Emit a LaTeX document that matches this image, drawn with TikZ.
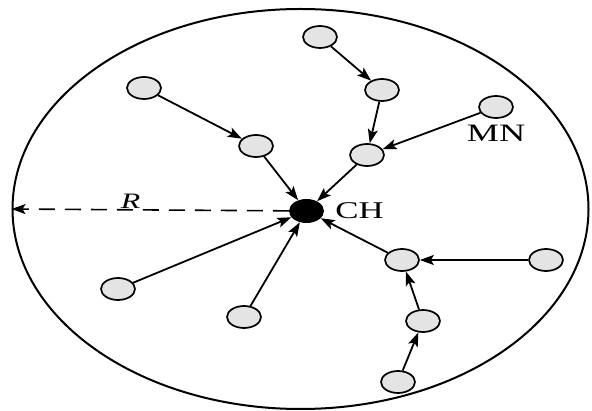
\documentclass[tikz,border=0pt]{standalone}
\usepackage{fontspec}
\usepackage{tikz}
\usetikzlibrary{arrows.meta, positioning, shapes.geometric}
\newfontfamily\lblfont[FakeStretch=1.45]{Liberation Serif}
\definecolor{mnfill}{HTML}{E4E4E4}

\begin{document}
\begin{tikzpicture}[
   x=1pt, y=-1pt, >={Stealth[length=14pt, width=10pt, inset=3pt]},
   font=\lblfont\fontsize{24}{24}\selectfont,
   member/.style = {ellipse, draw=black, line width=1.7pt, fill=mnfill,
                    minimum width=34pt, minimum height=22pt, inner sep=0pt},
   head/.style   = {ellipse, fill=black, minimum width=35pt, minimum height=24pt, inner sep=0pt},
   link/.style   = {->, line width=1.8pt}]
  \useasboundingbox (0,0) rectangle (592,411);
  \node[ellipse, draw, line width=2pt, minimum width=576pt, minimum height=400pt,
        inner sep=0pt] (field) at (300.5,209) {};

  \node[head] (ch) at (306.5,211) {};
  \node[right=9pt of ch, inner sep=2pt] (chlbl) {CH};

  \node[member] (nw1) at (144,88)  {};
  \node[member] (nw2) at (256,146) {};
  \node[member] (n1)  at (320,37)  {};
  \node[member] (n2)  at (382,90)  {};
  \node[member] (n3)  at (367,155) {};
  \node[member] (mn)  at (496,107) {};
  \node[below=4pt of mn, inner sep=2pt, font=\lblfont\fontsize{25}{25}\selectfont] (mnlbl) {MN};
  \node[member] (sw1) at (118,289) {};
  \node[member] (s1)  at (244,317) {};
  \node[member] (se1) at (402,260) {};
  \node[member] (e1)  at (546,260) {};
  \node[member] (se2) at (423,321) {};
  \node[member] (se3) at (398,382) {};

  \draw[link] (nw1) -- (nw2);
  \draw[link] (nw2) -- (ch);
  \draw[link] (n1) -- (n2);
  \draw[link] (n2) -- (n3);
  \draw[link] (mn) -- (n3);
  \draw[link] (n3) -- (ch);
  \draw[link] (sw1) -- (ch);
  \draw[link] (s1) -- (ch);
  \draw[link] (se1) -- (ch);
  \draw[link] (e1) -- (se1);
  \draw[link] (se2) -- (se1);
  \draw[link] (se3) -- (se2);

  \draw[->, line width=1.6pt, dash pattern=on 16pt off 10pt] (ch) -- (field.west)
       node[pos=0.57, above, inner sep=1pt, font=\lblfont\fontsize{22}{22}\selectfont\itshape] (rlbl) {R};
\end{tikzpicture}
\end{document}
